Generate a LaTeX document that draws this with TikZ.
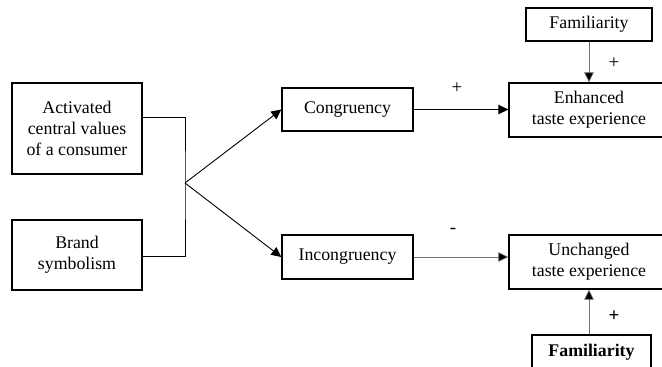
\documentclass[tikz,border=0pt]{standalone}
\usepackage{fontspec}
\setmainfont{Liberation Serif}
\usetikzlibrary{arrows.meta}
\begin{document}
\begin{tikzpicture}[x=1pt,y=-1pt,
  font=\fontsize{17.8}{21}\selectfont,
  box/.style={draw=black,line width=1.3pt,inner sep=0pt,align=center},
  lnk/.style={line width=0.9pt,-{Triangle[length=10pt,width=9.5pt]}},
  thin/.style={draw=black!55,line width=0.7pt,-{Triangle[length=10pt,width=9.5pt,fill=black]}},
  sign/.style={inner sep=0pt}]
\useasboundingbox (0,0) rectangle (662,367);
\begin{scope}
\clip (0,0) rectangle (662,367);
% inputs
\node[box,minimum width=130pt,minimum height=91pt] (act) at (77,128.5)
  {Activated\\central values\\of a consumer};
\node[box,minimum width=130pt,minimum height=70pt] (brand) at (77,255)
  {Brand\\symbolism};
% mediators
\node[box,minimum width=131pt,minimum height=43pt] (cong) at (347.5,109.5) {Congruency};
\node[box,minimum width=131pt,minimum height=44pt] (incong) at (347.5,257) {Incongruency};
% outcomes
\node[box,minimum width=160pt,minimum height=54pt] (enh) at (589,110)
  {Enhanced\\taste experience};
\node[box,minimum width=160pt,minimum height=54pt] (unch) at (589,262)
  {Unchanged\\taste experience};
% moderators
\node[box,minimum width=126pt,minimum height=33pt] (famA) at (589,24.5) {Familiarity};
\node[box,minimum width=119pt,minimum height=34pt] (famB) at (591.5,352) {\bfseries Familiarity};
% junction of the two inputs
\coordinate (jn) at (185,183);
\draw[line width=0.9pt] ([yshift=11.5pt]act.east) -| (jn) |- ([yshift=-1pt]brand.east);
\draw[lnk] (jn) -- (cong.west);
\draw[lnk] (jn) -- (incong.west);
\draw[lnk,line width=1.1pt] (cong.east) -- (enh.west |- cong.east);
\draw[thin] (incong.east) -- (unch.west |- incong.east);
\draw[thin] (famA.south -| enh.north) -- (enh.north);
\draw[thin] (famB.north -| unch.south) -- (unch.south);
% signs
\node[sign,font=\fontsize{19}{21}\selectfont] (s1) at (457,88) {+};
\node[sign,font=\fontsize{19}{21}\selectfont] (s2) at (614,63) {+};
\node[sign,font=\fontsize{19}{21}\selectfont] (s3) at (453,231) {-};
\node[sign,font=\fontsize{19}{21}\selectfont\bfseries] (s4) at (614,316) {+};
\end{scope}
\end{tikzpicture}
\end{document}
